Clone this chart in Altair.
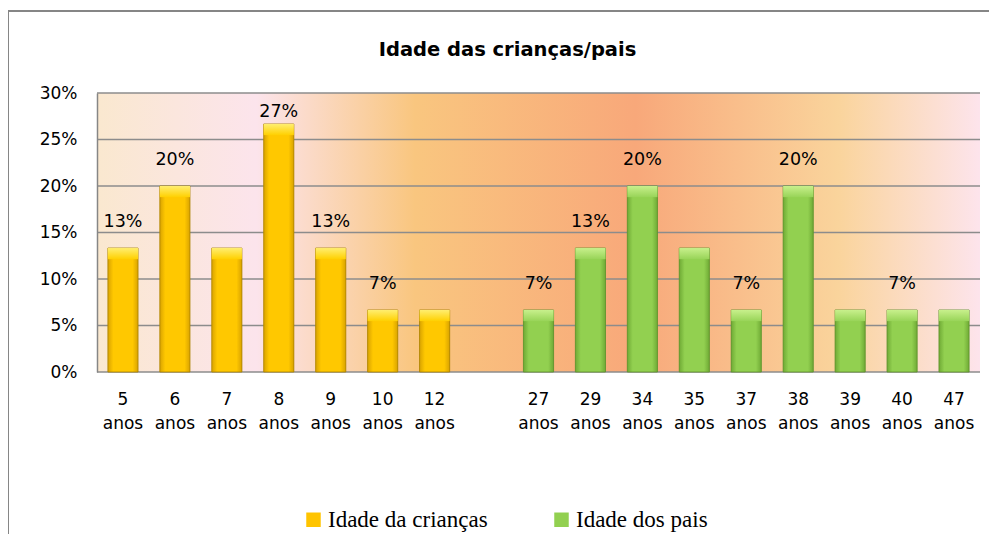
import altair as alt
import pandas as pd

# ---- data ----
categories_children = ["5 anos", "6 anos", "7 anos", "8 anos", "9 anos", "10 anos", "12 anos"]
values_children = [0.1333, 0.20, 0.1333, 0.2667, 0.1333, 0.0667, 0.0667]
labels_children = ["13%", "20%", "", "27%", "13%", "7%", ""]

categories_parents = ["27 anos", "29 anos", "34 anos", "35 anos", "37 anos",
                      "38 anos", "39 anos", "40 anos", "47 anos"]
values_parents = [0.0667, 0.1333, 0.20, 0.1333, 0.0667, 0.20, 0.0667, 0.0667, 0.0667]
labels_parents = ["7%", "13%", "20%", "", "7%", "20%", "", "7%", ""]

series_names = ["Idade da crianças", "Idade dos pais"]
gap_category = " "
y_ticks = [0, 0.05, 0.10, 0.15, 0.20, 0.25, 0.30]
title_text = "Idade das crianças/pais"

# ---- tables ----
df = pd.DataFrame({
    "cat": categories_children + categories_parents,
    "value": values_children + values_parents,
    "label": labels_children + labels_parents,
    "series": [series_names[0]] * len(categories_children) + [series_names[1]] * len(categories_parents),
})
domain = categories_children + [gap_category] + categories_parents
grid_df = pd.DataFrame({"value": y_ticks})
one = pd.DataFrame({"k": [0]})

W, H = 883, 279

x_enc = alt.X("cat:N", sort=domain,
              scale=alt.Scale(domain=domain, paddingInner=0.42, paddingOuter=0.21),
              axis=alt.Axis(title=None, labelAngle=0, domain=False, ticks=False,
                            labelExpr="split(datum.label, ' ')",
                            labelFont="DejaVu Sans", labelFontSize=17, labelColor="#000000",
                            labelPadding=19, labelLineHeight=24, labelBaseline="top"))
y_scale = alt.Scale(domain=[0, 0.30], nice=False)
y_axis = alt.Axis(title=None, format=".0%", values=y_ticks, grid=False, ticks=False,
                  domain=True, domainColor="#868686", domainWidth=1.5,
                  labelFont="DejaVu Sans", labelFontSize=17, labelColor="#000000",
                  labelPadding=20, zindex=1)
y_enc = alt.Y("value:Q", scale=y_scale, axis=y_axis)


def hgrad(edge, mid):
    return alt.Gradient(gradient="linear", x1=0, x2=1, y1=0, y2=0, stops=[
        alt.GradientStop(color=edge, offset=0),
        alt.GradientStop(color=mid, offset=0.18),
        alt.GradientStop(color=mid, offset=0.82),
        alt.GradientStop(color=edge, offset=1)])


def vgrad(top, bottom):
    return alt.Gradient(gradient="linear", x1=0, x2=0, y1=0, y2=1, stops=[
        alt.GradientStop(color=top, offset=0),
        alt.GradientStop(color=bottom, offset=1)])


bg_grad = alt.Gradient(gradient="linear", x1=0, x2=1, y1=0, y2=0, stops=[
    alt.GradientStop(color="#FAE8CF", offset=0),
    alt.GradientStop(color="#FCE4EC", offset=0.18),
    alt.GradientStop(color="#F9C67F", offset=0.36),
    alt.GradientStop(color="#F8A87A", offset=0.61),
    alt.GradientStop(color="#FAD49C", offset=0.84),
    alt.GradientStop(color="#FDE4EC", offset=1)])

background = alt.Chart(one).mark_rect(fill=bg_grad).encode(
    x=alt.value(0), x2=alt.value(W), y=alt.value(0), y2=alt.value(H))

border = alt.Chart(one).mark_rect(fillOpacity=0, stroke="#868686", strokeWidth=2).encode(
    x=alt.value(-89), x2=alt.value(W + 40), y=alt.value(-82), y2=alt.value(H + 300))

grid = alt.Chart(grid_df).mark_rule(color="#8C8C8C", strokeWidth=1.5).encode(y=y_enc)

base = alt.Chart(df)

legend_bars = base.mark_bar().encode(
    x=x_enc, y=y_enc,
    color=alt.Color("series:N",
                    scale=alt.Scale(domain=series_names, range=["#FFC400", "#92D050"]),
                    legend=alt.Legend(title=None, orient="none", legendX=205, legendY=415,
                                      direction="horizontal", symbolType="square", symbolSize=210,
                                      symbolStrokeWidth=0,
                                      labelFont="Liberation Serif, Times New Roman, serif",
                                      labelFontSize=23, labelLimit=400, labelColor="#000000",
                                      labelOffset=3, columnPadding=62)))

kids = base.transform_filter(alt.datum.series == series_names[0])
pais = base.transform_filter(alt.datum.series == series_names[1])

kid_bars = kids.mark_bar(fill=hgrad("#D9A300", "#FFC800"), stroke="#A88000", strokeWidth=0.8).encode(
    x=x_enc, y=y_enc)
pai_bars = pais.mark_bar(fill=hgrad("#6FAA35", "#92D050"), stroke="#5E8F2C", strokeWidth=0.8).encode(
    x=x_enc, y=y_enc)

kid_caps = kids.transform_calculate(cap="datum.value - 0.012").mark_bar(
    fill=vgrad("#FFEE70", "#FFD000")).encode(x=x_enc, y=y_enc, y2="cap:Q")
pai_caps = pais.transform_calculate(cap="datum.value - 0.012").mark_bar(
    fill=vgrad("#C8F08C", "#98D458")).encode(x=x_enc, y=y_enc, y2="cap:Q")

labels = base.transform_filter(alt.datum.label != "").transform_calculate(
    ly="min(datum.value + 0.028, 0.28)").mark_text(
    font="DejaVu Sans", fontSize=17.5, color="#000000", baseline="middle").encode(
    x=x_enc, y=alt.Y("ly:Q", scale=y_scale, axis=y_axis), text="label:N")

chart = alt.layer(
    background, border, grid, legend_bars, kid_bars, pai_bars, kid_caps, pai_caps, labels
).properties(
    width=W, height=H,
    padding={"left": 89, "top": 85, "right": 9, "bottom": 162},
    autosize=alt.AutoSizeParams(type="none"),
    title=alt.Title(title_text, font="DejaVu Sans", fontSize=19.5, fontWeight="bold",
                    color="#000000", anchor="middle", frame="group", dx=-31, offset=-65,
                    baseline="alphabetic"),
).configure_view(stroke=None)

chart.save("out.html", embed_options={"renderer": "svg", "actions": False})
